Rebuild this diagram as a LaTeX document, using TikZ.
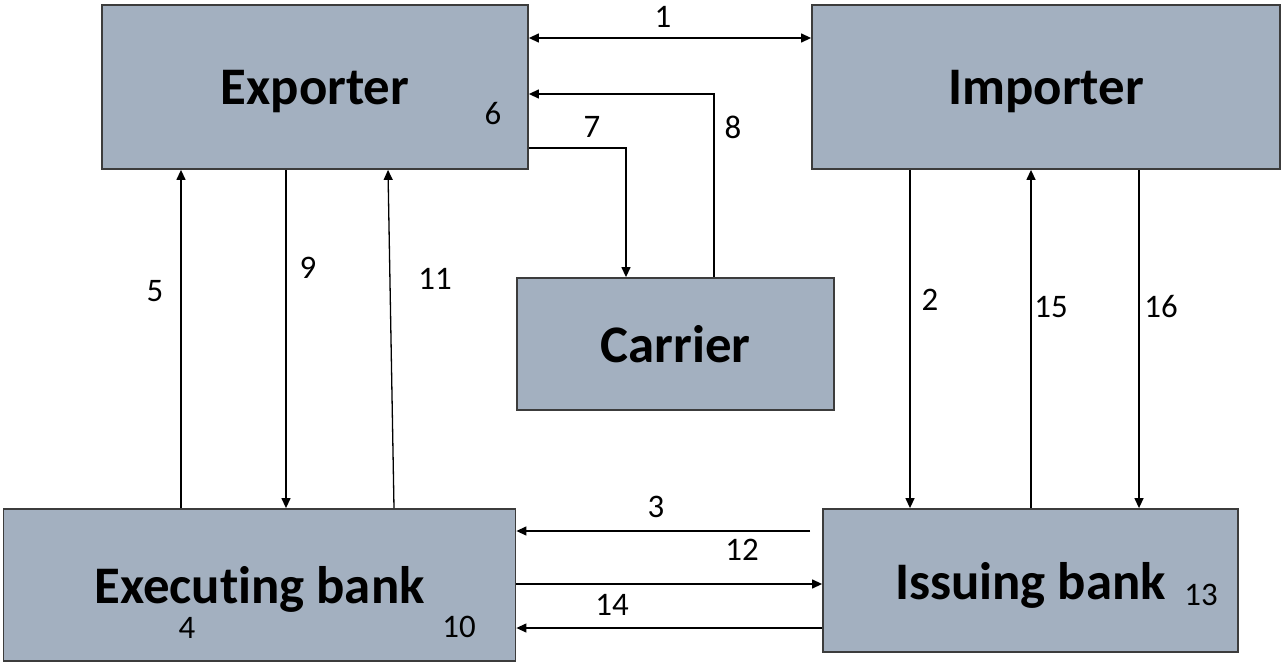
\documentclass[tikz,border=0pt]{standalone}
\usepackage{fontspec}
\setmainfont[Ligatures=NoCommon]{Carlito}
\usetikzlibrary{arrows.meta}
\definecolor{boxfill}{RGB}{163,176,192}
\definecolor{boxline}{RGB}{60,60,60}
\tikzset{
  party/.style={draw=boxline, line width=1.8bp, fill=boxfill, inner sep=0pt,
    text depth=0pt, font=\bfseries\fontsize{53}{60}\selectfont},
  flow/.style={line width=1.3bp, -{Triangle[length=10bp,width=9bp]}},
  twoway/.style={line width=1.3bp, {Triangle[length=10bp,width=9bp]}-{Triangle[length=10bp,width=9bp]}},
  num/.style={inner sep=0pt, font=\fontsize{33}{36}\selectfont}
}
\begin{document}
\begin{tikzpicture}[x=1bp,y=-1bp]
\useasboundingbox (0,0) rectangle (1282,664);

% parties
\node[party, minimum width=426bp, minimum height=164bp] (exp) at (315,87) {Exporter};
\node[party, minimum width=468bp, minimum height=164bp] (imp) at (1046,87) {Importer};
\node[party, minimum width=317bp, minimum height=132bp] (car) at (675.5,344) {Carrier};
\node[party, minimum width=512bp, minimum height=152bp] (exe) at (259.5,585) {Executing bank};
\node[party, minimum width=415bp, minimum height=143bp] (iss) at (1030.5,580.5) {Issuing bank};

% routing points
\coordinate (c1) at (670,38);
\coordinate (c7) at (626,148);
\coordinate (c8) at (714,94);
\coordinate (c5) at (181,0);
\coordinate (c9) at (286,0);
\coordinate (c11a) at (394,0);
\coordinate (c11b) at (388,0);
\coordinate (c2) at (910,0);
\coordinate (c15) at (1031,0);
\coordinate (c16) at (1139,0);
\coordinate (c3) at (810,531);
\coordinate (c12) at (0,584);
\coordinate (c14) at (0,628);

% flows
\draw[twoway] (exp.east |- c1) -- (imp.west |- c1);
\draw[flow] (exp.east |- c7) -| (car.north -| c7);
\draw[flow] (car.north -| c8) |- (exp.east |- c8);
\draw[flow] (exe.north -| c5) -- (exp.south -| c5);
\draw[flow] (exp.south -| c9) -- (exe.north -| c9);
\draw[flow] (exe.north -| c11a) -- (exp.south -| c11b);
\draw[flow] (imp.south -| c2) -- (iss.north -| c2);
\draw[flow] (iss.north -| c15) -- (imp.south -| c15);
\draw[flow] (imp.south -| c16) -- (iss.north -| c16);
\draw[flow] (c3) -- (exe.east |- c3);
\draw[flow] (exe.east |- c12) -- (iss.west |- c12);
\draw[flow] (iss.west |- c14) -- (exe.east |- c14);

% step numbers
\node[num] (n1) at (663,17) {1};
\node[num] (n2) at (930,300) {2};
\node[num] (n3) at (656,507) {3};
\node[num] (n4) at (187,628) {4};
\node[num] (n5) at (155,291) {5};
\node[num] (n6) at (493,114) {6};
\node[num] (n7) at (592,127) {7};
\node[num] (n8) at (733,127) {8};
\node[num] (n9) at (308,268) {9};
\node[num] (n10) at (459,627) {10};
\node[num] (n11) at (435,279) {11};
\node[num] (n12) at (742,550) {12};
\node[num] (n13) at (1201,595) {13};
\node[num] (n14) at (612,605) {14};
\node[num] (n15) at (1051,307) {15};
\node[num] (n16) at (1161,307) {16};
\end{tikzpicture}
\end{document}
